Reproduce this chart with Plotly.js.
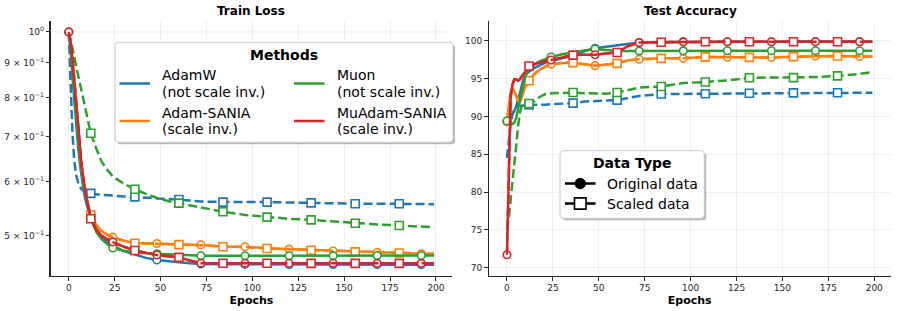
<!DOCTYPE html>
<html><head><meta charset="utf-8">
<script src="https://cdn.plot.ly/plotly-3.0.1.min.js"></script>
<style>html,body{margin:0;padding:0;background:#fff;} #chart{width:897px;height:311px;}</style>
</head><body><div id="chart"></div>
<script>
// ---------------- data ----------------
const epochs = [0,1,2,3,4,5,6,7,8,9,10,12,15,18,21,24,30,36,42,48,54,60,66,72,84,96,108,120,132,144,156,168,180,192,199];
const origMarkerEpochs = [0,24,48,72,96,120,144,168,192];
const scaledMarkerEpochs = [12,36,60,84,108,132,156,180];
const methods = ['AdamW','Adam-SANIA','Muon','MuAdam-SANIA'];
const methodNotes = ['(not scale inv.)','(scale inv.)','(not scale inv.)','(scale inv.)'];
const dataTypes = ['Original data','Scaled data'];
const epochTicks = [0,25,50,75,100,125,150,175,200];
const lossTickVals = [1,0.9,0.8,0.7,0.6,0.5];
const lossTickText = ['10<sup>0</sup>','9 × 10<sup>−1</sup>','8 × 10<sup>−1</sup>','7 × 10<sup>−1</sup>','6 × 10<sup>−1</sup>','5 × 10<sup>−1</sup>'];
const accTickVals = [70,75,80,85,90,95,100];

// Train loss
const lossAdamWOrig = [1.0,0.94,0.86,0.79,0.73,0.68,0.64,0.61,0.585,0.566,0.551,0.527,0.508,0.497,0.489,0.483,0.474,0.468,0.463,0.4597,0.4575,0.4562,0.4545,0.4535,0.4531,0.4529,0.4528,0.4527,0.4527,0.4526,0.4526,0.4525,0.4525,0.4525,0.4525];
const lossAdamWScaled = [1.0,0.82,0.71,0.645,0.615,0.600,0.590,0.585,0.582,0.580,0.579,0.577,0.575,0.574,0.573,0.572,0.571,0.570,0.568,0.567,0.566,0.565,0.563,0.561,0.560,0.560,0.560,0.559,0.5585,0.558,0.557,0.557,0.557,0.556,0.556];
const lossAdamSaniaOrig = [1.0,0.96,0.90,0.83,0.76,0.70,0.66,0.625,0.60,0.578,0.562,0.536,0.518,0.507,0.501,0.497,0.491,0.487,0.4865,0.4862,0.4855,0.485,0.4845,0.484,0.4815,0.481,0.4785,0.477,0.4755,0.474,0.4728,0.4716,0.4707,0.4697,0.4695];
const lossAdamSaniaScaled = [1.0,0.96,0.90,0.832,0.762,0.702,0.66,0.626,0.60,0.579,0.563,0.536,0.518,0.507,0.501,0.497,0.491,0.4868,0.4864,0.486,0.4852,0.4845,0.4842,0.4836,0.481,0.4805,0.478,0.4768,0.4752,0.474,0.4726,0.4716,0.4707,0.4698,0.4695];
const lossMuonOrig = [1.0,0.95,0.88,0.81,0.75,0.70,0.655,0.62,0.595,0.575,0.56,0.532,0.506,0.493,0.485,0.479,0.4745,0.4718,0.4705,0.4695,0.4685,0.4676,0.467,0.4665,0.4664,0.4664,0.4664,0.4665,0.4665,0.4666,0.4666,0.4667,0.4668,0.4669,0.467];
const lossMuonScaled = [1.0,0.975,0.95,0.92,0.89,0.865,0.84,0.815,0.79,0.765,0.745,0.708,0.672,0.642,0.625,0.611,0.596,0.585,0.576,0.568,0.562,0.558,0.553,0.549,0.542,0.536,0.532,0.529,0.527,0.524,0.521,0.519,0.517,0.515,0.514];
const lossMuAdamSaniaOrig = [1.0,0.965,0.915,0.85,0.785,0.725,0.675,0.635,0.605,0.58,0.562,0.529,0.51,0.499,0.493,0.489,0.481,0.475,0.471,0.4676,0.4656,0.464,0.459,0.4548,0.4547,0.4547,0.4546,0.4546,0.4546,0.4546,0.4546,0.4545,0.4545,0.4545,0.4545];
const lossMuAdamSaniaScaled = [1.0,0.966,0.916,0.852,0.786,0.726,0.676,0.636,0.606,0.581,0.562,0.529,0.51,0.499,0.493,0.4885,0.4808,0.4748,0.471,0.4674,0.4655,0.4638,0.4588,0.4547,0.4546,0.4546,0.4546,0.4546,0.4545,0.4545,0.4545,0.4545,0.4545,0.4545,0.4545];

// Test accuracy
const accAdamWOrig = [89.3,89.5,89.9,90.3,90.7,91.3,92.0,93.0,94.0,94.9,95.4,95.9,96.4,96.8,97.1,97.3,97.7,98.05,98.6,99.0,99.2,99.4,99.6,99.75,99.82,99.85,99.86,99.87,99.87,99.87,99.88,99.88,99.88,99.88,99.88];
const accAdamWScaled = [84.5,86.8,89.0,90.3,91.0,91.3,91.4,91.4,91.4,91.4,91.45,91.5,91.5,91.5,91.55,91.6,91.65,91.75,91.95,92.05,92.1,92.15,92.4,92.7,92.95,92.97,92.98,93.0,93.05,93.08,93.1,93.1,93.12,93.12,93.12];
const accAdamSaniaOrig = [89.3,91.2,93.2,93.7,93.4,92.8,92.2,91.9,92.5,93.3,94.0,94.7,95.6,96.2,96.6,96.9,97.05,97.1,96.9,96.7,96.85,97.0,97.4,97.55,97.67,97.67,97.85,97.82,97.8,97.78,97.88,97.97,97.97,97.92,97.9];
const accAdamSaniaScaled = [89.2,91.1,93.1,93.6,93.3,92.7,92.1,91.8,92.4,93.2,93.9,94.7,95.6,96.2,96.6,96.9,97.05,97.1,96.9,96.7,96.85,97.0,97.4,97.55,97.67,97.67,97.86,97.82,97.8,97.78,97.89,97.97,97.98,97.92,97.9];
const accMuonOrig = [89.4,89.2,89.0,89.0,89.2,89.8,90.8,92.0,93.3,94.4,95.3,96.3,96.9,97.3,97.6,97.85,98.2,98.5,98.7,98.9,98.8,98.65,98.65,98.65,98.66,98.66,98.67,98.67,98.67,98.67,98.68,98.68,98.68,98.68,98.68];
const accMuonScaled = [75.0,76.5,79.0,81.5,83.5,86.0,88.5,90.5,91.3,91.5,91.6,91.7,92.0,92.6,92.95,93.05,93.1,93.15,93.05,92.98,93.0,93.15,93.5,93.8,93.95,94.4,94.55,94.75,95.1,95.1,95.12,95.2,95.35,95.6,95.85];
const accMuAdamSaniaOrig = [71.7,83.0,92.5,94.2,94.9,94.9,94.7,94.9,95.3,95.6,95.9,96.6,96.9,97.1,97.3,97.45,97.8,98.1,98.15,98.15,98.3,98.45,99.3,99.75,99.8,99.85,99.87,99.87,99.87,99.87,99.87,99.87,99.87,99.87,99.87];
const accMuAdamSaniaScaled = [71.7,83.2,92.6,94.2,94.9,94.85,94.7,94.9,95.3,95.6,95.95,96.65,96.9,97.1,97.3,97.45,97.8,98.1,98.15,98.15,98.3,98.45,99.3,99.75,99.8,99.85,99.87,99.87,99.87,99.87,99.87,99.87,99.87,99.87,99.87];

// ---------------- styling ----------------
const colors = ['#1f77b4','#ff7f0e','#2ca02c','#d62728'];
const lossSeries = [[lossAdamWOrig,lossAdamWScaled],[lossAdamSaniaOrig,lossAdamSaniaScaled],[lossMuonOrig,lossMuonScaled],[lossMuAdamSaniaOrig,lossMuAdamSaniaScaled]];
const accSeries = [[accAdamWOrig,accAdamWScaled],[accAdamSaniaOrig,accAdamSaniaScaled],[accMuonOrig,accMuonScaled],[accMuAdamSaniaOrig,accMuAdamSaniaScaled]];
const FONT = 'DejaVu Sans';
const W = 897, H = 311;
const px = v => v / W;
const py = v => 1 - v / H;

const traces = [];
function addPanel(series, xa, ya) {
  series.forEach((pair, mi) => {
    pair.forEach((vals, ti) => {
      const scaled = ti === 1;
      traces.push({
        x: epochs, y: vals, xaxis: xa, yaxis: ya, mode: 'lines', showlegend: false,
        name: methods[mi] + ' – ' + dataTypes[ti], hoverinfo: 'skip',
        line: {color: colors[mi], width: 2.5, dash: scaled ? '9px,4px' : 'solid'}
      });
      const marks = scaled ? scaledMarkerEpochs : origMarkerEpochs;
      const mx = [], my = [];
      epochs.forEach((e, i) => { if (marks.includes(e)) { mx.push(e); my.push(vals[i]); } });
      traces.push({
        x: mx, y: my, xaxis: xa, yaxis: ya, mode: 'markers', showlegend: false, hoverinfo: 'skip',
        cliponaxis: false,
        marker: {symbol: scaled ? 'square' : 'circle', size: scaled ? 8 : 7.5, color: '#ffffff',
                 line: {color: colors[mi], width: 1.6}}
      });
    });
  });
}
addPanel(lossSeries, 'x', 'y');
addPanel(accSeries, 'x2', 'y2');

const axisCommon = {
  showline: true, linecolor: '#262626', linewidth: 1.1, mirror: false,
  ticks: 'outside', ticklen: 3.5, tickwidth: 1, tickcolor: '#262626',
  tickfont: {family: FONT, size: 9, color: '#262626'},
  showgrid: true, gridcolor: '#ebebeb', gridwidth: 0.8, zeroline: false, automargin: false
};
const yDom = [(H - 276) / H, (H - 20.5) / H];

function roundedRect(x0, y0, x1, y1, r) {
  const X = v => px(v).toFixed(5), Y = v => py(v).toFixed(5);
  return `M${X(x0+r)},${Y(y0)} L${X(x1-r)},${Y(y0)} Q${X(x1)},${Y(y0)} ${X(x1)},${Y(y0+r)} ` +
         `L${X(x1)},${Y(y1-r)} Q${X(x1)},${Y(y1)} ${X(x1-r)},${Y(y1)} L${X(x0+r)},${Y(y1)} ` +
         `Q${X(x0)},${Y(y1)} ${X(x0)},${Y(y1-r)} L${X(x0)},${Y(y0+r)} Q${X(x0)},${Y(y0)} ${X(x0+r)},${Y(y0)} Z`;
}

const shapes = [
  // major grid line at 10^0 on log axis
  {type: 'line', xref: 'x domain', yref: 'y', x0: 0, x1: 1, y0: 1, y1: 1, layer: 'below', line: {color: '#ebebeb', width: 0.8}},
];
const annotations = [
  {text: '<b>Train Loss</b>', x: px(251), y: py(11), xref: 'paper', yref: 'paper', showarrow: false, xanchor: 'center', yanchor: 'middle', font: {family: FONT, size: 12, color: '#000'}},
  {text: '<b>Test Accuracy</b>', x: px(690.5), y: py(11), xref: 'paper', yref: 'paper', showarrow: false, xanchor: 'center', yanchor: 'middle', font: {family: FONT, size: 12, color: '#000'}},
];

// Methods legend
const mBox = [115, 42.3, 453, 142.3];
shapes.push({type: 'path', xref: 'paper', yref: 'paper', layer: 'above', path: roundedRect(mBox[0]+2, mBox[1]+2, mBox[2]+2, mBox[3]+2, 4), fillcolor: 'rgba(0,0,0,0.28)', line: {width: 0}});
shapes.push({type: 'path', xref: 'paper', yref: 'paper', layer: 'above', path: roundedRect(mBox[0], mBox[1], mBox[2], mBox[3], 4), fillcolor: '#ffffff', line: {color: '#cccccc', width: 1}});
annotations.push({text: '<b>Methods</b>', x: px(284), y: py(54.5), xref: 'paper', yref: 'paper', showarrow: false, xanchor: 'center', yanchor: 'middle', font: {family: FONT, size: 14, color: '#000'}});
const colX = [119.5, 294];
const rowY = [83.5, 121];
methods.forEach((m, i) => {
  const c = i < 2 ? 0 : 1, r = i % 2;
  const x0 = colX[c], yc = rowY[r];
  shapes.push({type: 'line', xref: 'paper', yref: 'paper', layer: 'above', x0: px(x0), x1: px(x0 + 30.5), y0: py(yc), y1: py(yc), line: {color: colors[i], width: 2.5}});
  annotations.push({text: m, x: px(x0 + 40.5), y: py(yc - 8.3), xref: 'paper', yref: 'paper', showarrow: false, xanchor: 'left', yanchor: 'middle', font: {family: FONT, size: 14, color: '#000'}});
  annotations.push({text: methodNotes[i], x: px(x0 + 40.5), y: py(yc + 8.3), xref: 'paper', yref: 'paper', showarrow: false, xanchor: 'left', yanchor: 'middle', font: {family: FONT, size: 14, color: '#000'}});
});

// Data Type legend
const dBox = [560, 150.7, 704.3, 218.3];
shapes.push({type: 'path', xref: 'paper', yref: 'paper', layer: 'above', path: roundedRect(dBox[0]+2, dBox[1]+2, dBox[2]+2, dBox[3]+2, 4), fillcolor: 'rgba(0,0,0,0.28)', line: {width: 0}});
shapes.push({type: 'path', xref: 'paper', yref: 'paper', layer: 'above', path: roundedRect(dBox[0], dBox[1], dBox[2], dBox[3], 4), fillcolor: '#ffffff', line: {color: '#cccccc', width: 1}});
annotations.push({text: '<b>Data Type</b>', x: px(632.3), y: py(163), xref: 'paper', yref: 'paper', showarrow: false, xanchor: 'center', yanchor: 'middle', font: {family: FONT, size: 14, color: '#000'}});
const dRows = [183.5, 203.5];
shapes.push({type: 'line', xref: 'paper', yref: 'paper', layer: 'above', x0: px(565), x1: px(595.5), y0: py(dRows[0]), y1: py(dRows[0]), line: {color: '#000', width: 2.5}});
shapes.push({type: 'circle', xref: 'paper', yref: 'paper', layer: 'above', x0: px(575), x1: px(585.5), y0: py(dRows[0] - 5.2), y1: py(dRows[0] + 5.2), fillcolor: '#000', line: {color: '#000', width: 1}});
shapes.push({type: 'line', xref: 'paper', yref: 'paper', layer: 'above', x0: px(565), x1: px(595.5), y0: py(dRows[1]), y1: py(dRows[1]), line: {color: '#000', width: 2.5}});
shapes.push({type: 'rect', xref: 'paper', yref: 'paper', layer: 'above', x0: px(574.5), x1: px(586), y0: py(dRows[1] - 5.6), y1: py(dRows[1] + 5.6), fillcolor: '#fff', line: {color: '#000', width: 1.6}});
dataTypes.forEach((t, i) => {
  annotations.push({text: t, x: px(605), y: py(dRows[i]), xref: 'paper', yref: 'paper', showarrow: false, xanchor: 'left', yanchor: 'middle', font: {family: FONT, size: 14, color: '#000'}});
});

const layout = {
  width: W, height: H, margin: {l: 0, r: 0, t: 0, b: 0},
  paper_bgcolor: '#ffffff', plot_bgcolor: '#ffffff',
  font: {family: FONT, color: '#000'},
  showlegend: false,
  xaxis: Object.assign({}, axisCommon, {domain: [px(50.5), px(452.4)], range: [-9.95, 208.95], tickvals: epochTicks, anchor: 'y',
    title: {text: '<b>Epochs</b>', font: {family: FONT, size: 11, color: '#000'}, standoff: 3}}),
  yaxis: Object.assign({}, axisCommon, {domain: yDom, type: 'log', range: [-0.3612, 0.0170], tickvals: lossTickVals, ticktext: lossTickText, anchor: 'x', showgrid: false}),
  xaxis2: Object.assign({}, axisCommon, {domain: [px(488.7), px(890.7)], range: [-9.95, 208.95], tickvals: epochTicks, anchor: 'y2',
    title: {text: '<b>Epochs</b>', font: {family: FONT, size: 11, color: '#000'}, standoff: 3}}),
  yaxis2: Object.assign({}, axisCommon, {domain: yDom, range: [68.9, 102.67], tickvals: accTickVals, anchor: 'x2'}),
  shapes: shapes,
  annotations: annotations
};

Plotly.newPlot('chart', traces, layout, {staticPlot: true, displayModeBar: false});
</script>
</body></html>
